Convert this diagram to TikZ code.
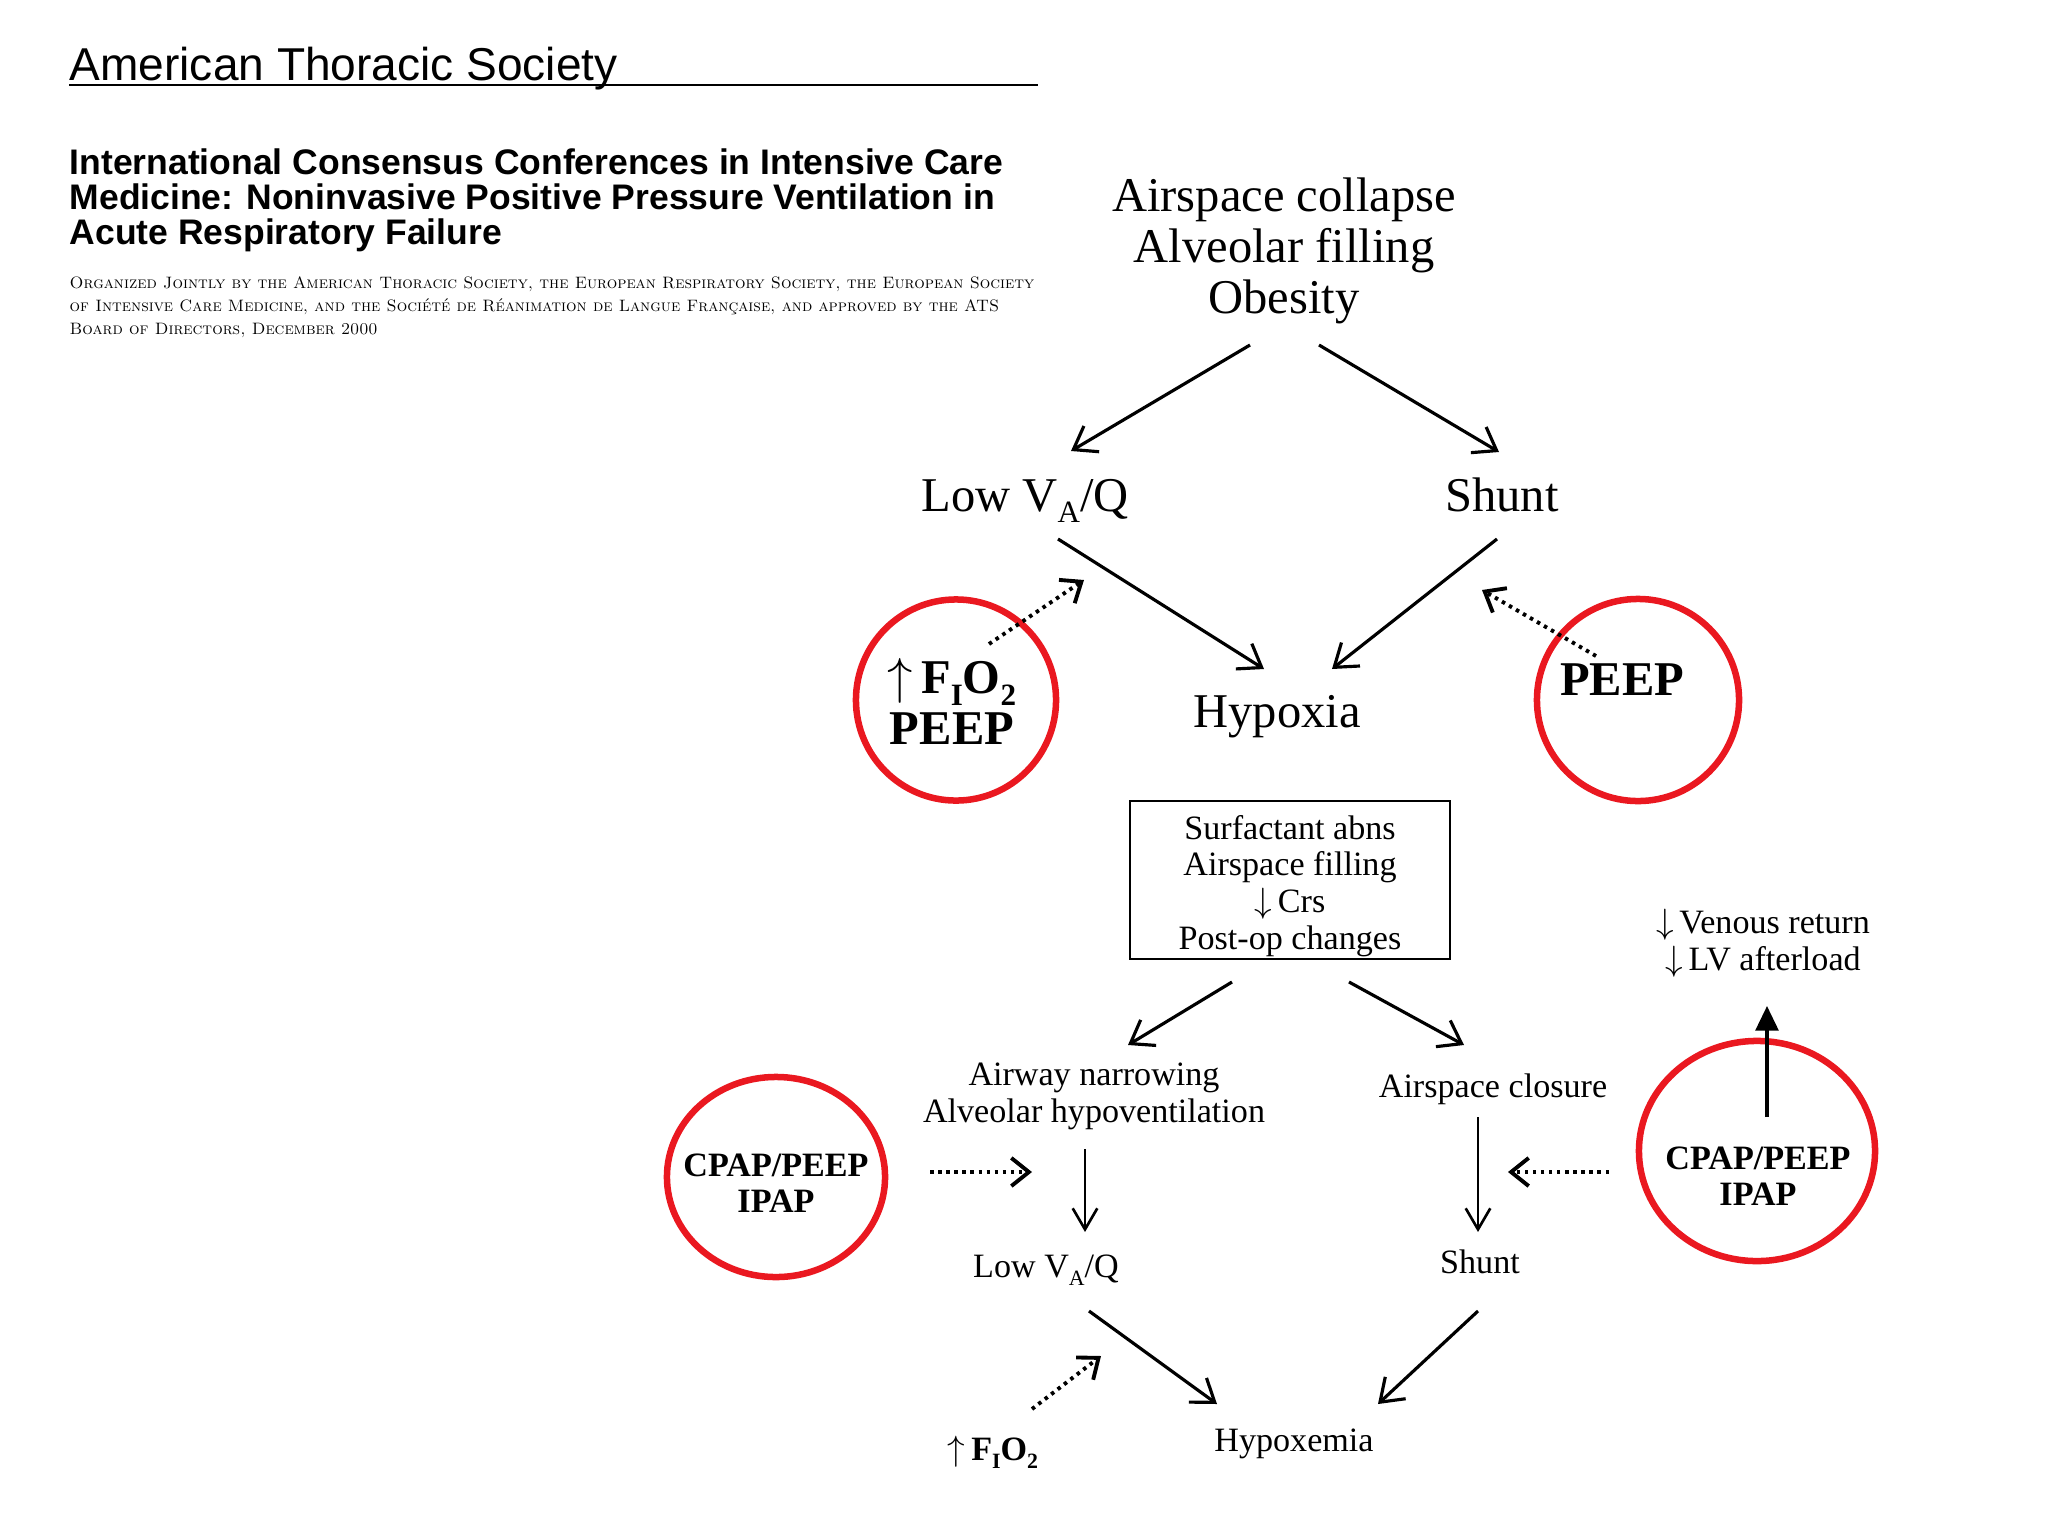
\documentclass[tikz,border=0pt]{standalone}
\usepackage{fontspec}
\usepackage{graphicx}
\usetikzlibrary{arrows.meta,shapes.geometric}
\newfontfamily\tnr{Liberation Serif}
\newfontfamily\hsans{Liberation Sans}
\definecolor{cred}{RGB}{234,24,32}
\newcommand\lsub[1]{\raisebox{-0.24em}{\scalebox{0.64}{#1}}}
\begin{document}
\begin{tikzpicture}[x=0.01cm,y=-0.01cm,
  big/.style={font=\tnr\fontsize{13.8}{14.4}\selectfont, inner sep=0pt, align=center},
  bigb/.style={font=\tnr\bfseries\fontsize{13.8}{14.4}\selectfont, inner sep=0pt, align=center},
  sml/.style={font=\tnr\fontsize{9.7}{10.4}\selectfont, inner sep=0pt, align=center},
  smlb/.style={font=\tnr\bfseries\fontsize{9.7}{10.2}\selectfont, inner sep=0pt, align=center},
  redc/.style={ellipse, draw=cred, line width=1.85pt, inner sep=0pt},
  arr/.style={line width=0.9pt, -{Straight Barb[length=6pt,width=8.5pt,line width=0.9pt]}},
  thinarr/.style={line width=0.65pt, -{Straight Barb[length=6pt,width=7pt,line width=0.75pt]}},
  dotarr/.style={line width=1.1pt, dash pattern=on 1pt off 1.3pt, -{Straight Barb[length=5pt,width=8pt,line width=1.1pt]}},
  uparr/.style={line width=0.9pt, -{Triangle[length=7pt,width=6.5pt]}},
  boxst/.style={draw, line width=0.6pt, minimum width=3.19cm, minimum height=1.58cm, inner sep=0pt}
]
\useasboundingbox[fill=white] (0,0) rectangle (2048,1536);

% ---------- header ----------
\node[anchor=base west, inner sep=0pt, font=\hsans\fontsize{13.1}{14}\selectfont] (hdr) at (69,80) {American Thoracic Society};
\draw[line width=0.6pt] (69,85) -- (1038,85);

\node[anchor=base west, inner sep=0pt, align=left, font=\hsans\bfseries\fontsize{10.1}{9.9}\selectfont] (title) at (69,244)
  {International Consensus Conferences in Intensive Care\\Medicine: Noninvasive Positive Pressure Ventilation in\\Acute Respiratory Failure};

\node[anchor=base west, inner sep=0pt, align=left, font=\fontsize{4.7}{6.5}\selectfont] (org) at (69,334)
  {\textsc{Organized Jointly by the American Thoracic Society, the European Respiratory Society, the European Society}\\
   \textsc{of Intensive Care Medicine, and the Soci\'et\'e de R\'eanimation de Langue Fran\c{c}aise, and approved by the ATS}\\
   \textsc{Board of Directors, December 2000}};

% ---------- upper diagram ----------
\node[big] (top) at (1284,251) {Airspace collapse\\Alveolar filling\\Obesity};
\node[big, anchor=base] (lowvq) at (1025,511) {Low V\lsub{A}/Q};
\node[big, anchor=base] (shunt) at (1502,511) {Shunt};
\node[big, anchor=base] (hypoxia) at (1277,727) {Hypoxia};

\node[redc, minimum width=2.0cm, minimum height=2.01cm] (c1) at (956,700) {};
\node[redc, minimum width=2.02cm, minimum height=2.02cm] (c2) at (1638,700) {};
\node[bigb, anchor=base] (t1) at (952,744) {$\uparrow$\,F\lsub{I}O\lsub{2}\\PEEP};
\node[bigb, anchor=base] (t2) at (1622,695) {PEEP};

\draw[arr] ([shift={(-34,94)}]top.center) -- ([shift={(46,-60)}]lowvq.base);
\draw[arr] ([shift={(35,94)}]top.center) -- ([shift={(-3,-59)}]shunt.base);
\draw[arr] ([shift={(33,28)}]lowvq.base) -- ([shift={(-13,-58)}]hypoxia.base);
\draw[arr] ([shift={(-5,28)}]shunt.base) -- ([shift={(55,-58)}]hypoxia.base);
\draw[dotarr] ([shift={(33,-56)}]c1.center) -- ([shift={(59,69)}]lowvq.base);
\draw[dotarr] ([shift={(-42,-44)}]c2.center) -- ([shift={(-20,79)}]shunt.base);

% ---------- lower diagram ----------
\node[boxst] (box) at (1290,880) {};
\node[sml, anchor=base] (boxtxt) at (1290,949) {Surfactant abns\\Airspace filling\\$\downarrow$\,Crs\\Post-op changes};
\node[sml, anchor=base] (venous) at (1763,970) {$\downarrow$\,Venous return\\$\downarrow$\,LV afterload};
\node[sml, anchor=base] (airway) at (1094,1122) {Airway narrowing\\Alveolar hypoventilation};
\node[sml, anchor=base] (closure) at (1493,1097) {Airspace closure};
\node[sml, anchor=base] (lowvq2) at (1046,1277) {Low V\lsub{A}/Q};
\node[sml, anchor=base] (shunt2) at (1480,1273) {Shunt};
\node[sml, anchor=base] (hypoxemia) at (1294,1451) {Hypoxemia};
\node[smlb, anchor=base] (fio2) at (993,1460) {$\uparrow$\,F\lsub{I}O\lsub{2}};

\node[redc, minimum width=2.18cm, minimum height=2.0cm] (c3) at (776,1177) {};
\node[redc, minimum width=2.36cm, minimum height=2.2cm] (c4) at (1757,1151) {};
\node[smlb, anchor=base] (t3) at (776,1212) {CPAP/PEEP\\IPAP};
\node[smlb, anchor=base] (t4) at (1758,1205) {CPAP/PEEP\\IPAP};

\draw[arr] ([shift={(-58,102)}]box.center) -- ([shift={(34,-77)}]airway.base);
\draw[arr] ([shift={(59,102)}]box.center) -- ([shift={(-29,-52)}]closure.base);
\draw[thinarr] ([shift={(-9,27)}]airway.base) -- ([shift={(39,-45)}]lowvq2.base);
\draw[thinarr] ([shift={(-15,20)}]closure.base) -- ([shift={(-2,-41)}]shunt2.base);
\draw[dotarr] ([shift={(154,-5)}]c3.center) -- ([shift={(-62,50)}]airway.base);
\draw[dotarr] ([shift={(-148,21)}]c4.center) -- ([shift={(15,75)}]closure.base);
\draw[uparr] ([shift={(10,-34)}]c4.center) -- ([shift={(4,36)}]venous.base);
\draw[arr] ([shift={(43,34)}]lowvq2.base) -- ([shift={(-77,-47)}]hypoxemia.base);
\draw[arr] ([shift={(-2,38)}]shunt2.base) -- ([shift={(84,-47)}]hypoxemia.base);
\draw[dotarr] ([shift={(39,-51)}]fio2.base) -- ([shift={(55,79)}]lowvq2.base);
\end{tikzpicture}
\end{document}
